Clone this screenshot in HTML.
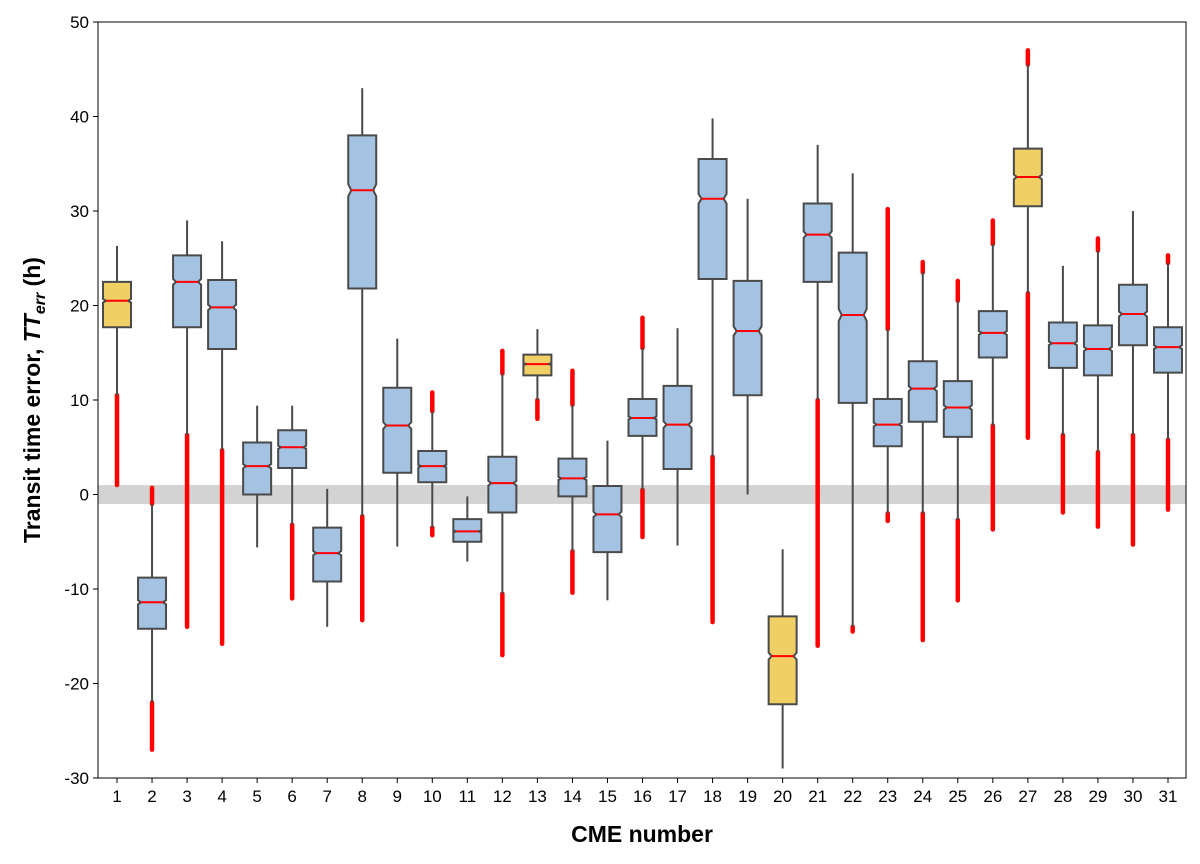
<!DOCTYPE html>
<html><head><meta charset="utf-8"><style>
html,body{margin:0;padding:0;background:#fff}
svg{display:block;font-family:"Liberation Sans Narrow","Liberation Sans",sans-serif}
</style></head><body>
<svg id="chart" width="1200" height="864" viewBox="0 0 1200 864"></svg>
<script>
const categories=[1,2,3,4,5,6,7,8,9,10,11,12,13,14,15,16,17,18,19,20,21,22,23,24,25,26,27,28,29,30,31];
const highlighted=[1,13,20,27];
const q1=[17.7,-14.2,17.7,15.4,0,2.8,-9.2,21.8,2.3,1.3,-5,-1.9,12.6,-0.2,-6.1,6.2,2.7,22.8,10.5,-22.2,22.5,9.7,5.1,7.7,6.1,14.5,30.5,13.4,12.6,15.8,12.9];
const medians=[20.5,-11.4,22.5,19.8,3,5,-6.2,32.2,7.3,3,-3.9,1.2,13.8,1.7,-2.1,8.1,7.4,31.3,17.3,-17.1,27.5,19,7.4,11.2,9.2,17.1,33.6,16,15.4,19.1,15.6];
const q3=[22.5,-8.8,25.3,22.7,5.5,6.8,-3.5,38,11.3,4.6,-2.6,4,14.8,3.8,0.9,10.1,11.5,35.5,22.6,-12.9,30.8,25.6,10.1,14.1,12,19.4,36.6,18.2,17.9,22.2,17.7];
const whiskLow=[10.5,-22,6.3,4.7,-5.6,-3.2,-14,-2.3,-5.5,-3.5,-7.1,-10.5,10,-6,-11.2,0.5,-5.4,4,0,-29,10,-14,-2,-2,-2.7,7.3,21.3,6.3,4.5,6.3,5.8];
const whiskHigh=[26.3,-1,29,26.8,9.4,9.4,0.6,43,16.5,8.8,-0.2,12.8,17.5,9.5,5.7,15.5,17.6,39.8,31.3,-5.8,37,34,17.5,23.5,20.5,26.5,45.5,24.2,25.8,30,24.5];
const outLowMin=[1,-27,-14,-15.8,null,-11,null,-13.3,null,-4.3,null,-17,8,-10.4,null,-4.5,null,-13.5,null,null,-16,-14.5,-2.8,-15.4,-11.2,-3.7,6,-1.9,-3.4,-5.3,-1.6];
const outHighMax=[null,0.7,null,null,null,null,null,null,null,10.8,null,15.2,null,13.1,null,18.7,null,null,null,null,null,null,30.2,24.6,22.6,29,47,null,27.1,null,25.3];
const yTicks=[-30,-20,-10,0,10,20,30,40,50];

const NS="http://www.w3.org/2000/svg";
const svg=document.getElementById('chart');
const L=98,R=1186,T=22,B=778;
const yMin=-30,yMax=50;
const y=v=>T+(yMax-v)/(yMax-yMin)*(B-T);
const x=i=>117+i*(1168-117)/30;
function mk(tag,attrs,parent){const e=document.createElementNS(NS,tag);for(const k in attrs)e.setAttribute(k,attrs[k]);(parent||svg).appendChild(e);return e;}

const band=mk('rect',{x:L,y:y(1),width:R-L,height:y(-1)-y(1),fill:'#d3d3d3'});



const HW=14,NI=3;
categories.forEach((c,i)=>{
  const g=mk('g',{});
  
  
  const cx=x(i);
  const st='#4a4a4a';
  if(outLowMin[i]!==null){mk('line',{x1:cx,x2:cx,y1:y(whiskLow[i]),y2:y(outLowMin[i]),stroke:'#ff0000','stroke-width':4.5,'stroke-linecap':'round'},g);}
  if(outHighMax[i]!==null){mk('line',{x1:cx,x2:cx,y1:y(whiskHigh[i]),y2:y(outHighMax[i]),stroke:'#ff0000','stroke-width':4.5,'stroke-linecap':'round'},g);}
  mk('line',{x1:cx,x2:cx,y1:y(q3[i]),y2:y(whiskHigh[i]),stroke:st,'stroke-width':2},g);
  mk('line',{x1:cx,x2:cx,y1:y(q1[i]),y2:y(whiskLow[i]),stroke:st,'stroke-width':2},g);
  const iqr=q3[i]-q1[i];
  const n=Math.min(0.04*iqr,medians[i]-q1[i],q3[i]-medians[i]);
  const m=medians[i];
  const pts=[[cx-HW,q1[i]],[cx+HW,q1[i]],[cx+HW,m-n],[cx+HW-NI,m],[cx+HW,m+n],[cx+HW,q3[i]],[cx-HW,q3[i]],[cx-HW,m+n],[cx-HW+NI,m],[cx-HW,m-n]];
  const fill=highlighted.includes(c)?'#f0d064':'#a4c2e2';
  mk('polygon',{points:pts.map(p=>p[0]+','+y(p[1])).join(' '),fill:fill,stroke:st,'stroke-width':2,'stroke-linejoin':'miter'},g);
  mk('line',{x1:cx-HW+NI,x2:cx+HW-NI,y1:y(m),y2:y(m),stroke:'#ff0000','stroke-width':2},g);
});

const fr=mk('rect',{x:L,y:T,width:R-L,height:B-T,fill:'none',stroke:'#000','stroke-width':1});



yTicks.forEach(v=>{
  mk('line',{x1:L-5,x2:L,y1:y(v),y2:y(v),stroke:'#000','stroke-width':1});
  const t=mk('text',{x:L-9,y:y(v)+6,'text-anchor':'end','font-size':17,fill:'#000'});
  t.textContent=v;
  
  
});
categories.forEach((c,i)=>{
  mk('line',{x1:x(i),x2:x(i),y1:B,y2:B+5,stroke:'#000','stroke-width':1});
  const t=mk('text',{x:x(i),y:B+24,'text-anchor':'middle','font-size':17,fill:'#000'});
  t.textContent=c;
  
  
});
const xt=mk('text',{x:(L+R)/2,y:842,'text-anchor':'middle','font-size':23,'font-weight':'bold',fill:'#000'});
xt.textContent='CME number';


const yt=mk('text',{x:0,y:0,'text-anchor':'middle','font-size':23,'font-weight':'bold',fill:'#000',transform:'translate(40,'+((T+B)/2)+') rotate(-90)'});
yt.innerHTML='Transit time error, <tspan font-style="italic">TT</tspan><tspan font-style="italic" font-size="16" dy="5">err</tspan><tspan dy="-5"> (h)</tspan>';


</script>
</body></html>
